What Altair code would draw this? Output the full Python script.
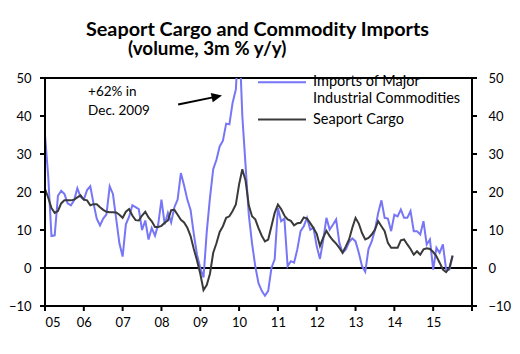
import altair as alt
import pandas as pd

# monthly, Jan 2005 .. Jul 2015 (3m % y/y)
imports = [
    35, 24, 8.4, 8.6, 19, 20.3, 19.5, 17, 16.5, 17.8, 21, 18.7,          # 2005
    18, 20.5, 21.5, 17, 13, 11.2, 13, 14.1, 21.5, 19.5, 13, 6.5,         # 2006
    3, 11.5, 13.5, 16.5, 16, 15.5, 10, 12.5, 7.5, 10.5, 8.5, 11.5,       # 2007
    18, 11.5, 14.5, 12, 16, 18, 25, 21.7, 18, 15.3, 9, 3.5,              # 2008
    0, -2.5, 9.5, 18.5, 26, 28.5, 32, 33.5, 38, 37.8, 43.5, 47,          # 2009
    62, 40, 27, 14, 6.5, 0.5, -4, -6, -7.3, -6, 0, 2.3,                  # 2010
    15.8, 12.3, 13, 0.5, 1.8, 1.4, 4.9, 9.7, 11, 13.2, 10.1, 10.6,       # 2011
    5.7, 2.4, 7.3, 13.2, 10.1, 11.4, 12.8, 6.6, 4, 4.9, 6.8, 7.8,        # 2012
    7, 4, 0.5, -1, 5, 7, 10, 14.5, 17.8, 13.2, 13, 9.7,                  # 2013
    14, 13.6, 15.4, 13.2, 13.2, 15, 9.7, 9.7, 8.8, 12.3, 6.2, 7.5,       # 2014
    -0.4, 5.3, 4, 6.2, -0.4, -0.4, 3.1,                                  # 2015
]
seaport = [
    20.8, 18.5, 15.8, 14.5, 15, 17, 17.8, 17.8, 17.8, 18, 18.6, 19.1,    # 2005
    18, 17.8, 16.5, 16.8, 16.8, 16, 15.3, 14.8, 14.7, 14.7, 14.6, 14,    # 2006
    13.2, 14.8, 15.5, 13.8, 12.6, 12.5, 13.8, 14.8, 13.3, 12.3, 10.8, 10.8,  # 2007
    11.1, 11.9, 12.5, 15.2, 15.3, 14, 12.7, 12, 10.6, 8.4, 5, 2,         # 2008
    -1.5, -5.8, -4.5, -1.5, 4, 6.5, 9.5, 11, 13.2, 13.6, 15, 16.7,       # 2009
    22, 26, 23, 16.5, 13.6, 12.8, 10.5, 8.5, 7, 7.5, 11, 14.5,           # 2010
    16.7, 15.5, 13.8, 12.8, 12.4, 11.2, 11.8, 11.9, 13.3, 13, 11.8, 10.5,  # 2011
    9, 5.8, 8, 9.8, 8.4, 7.3, 6.4, 5.3, 4, 5.7, 7.5, 10.6,               # 2012
    13.2, 11.7, 9.2, 7.5, 7.9, 8.8, 10.1, 12.3, 11, 9.7, 6.6, 5.3,       # 2013
    5.3, 5.3, 7.3, 7.5, 6.2, 5, 3.5, 4.4, 3.5, 4.9, 5.2, 5,              # 2014
    4.2, 3.1, 1.4, -0.4, -1.1, 0, 3.3,                                   # 2015
]
series_names = ["Imports of Major Industrial Commodities", "Seaport Cargo"]
series_colors = ["#7676f7", "#3a3a3a"]
year_ticks = list(range(2005, 2017))
y_ticks = [-10, 0, 10, 20, 30, 40, 50]

title_line1 = "Seaport Cargo and Commodity Imports"
title_line2 = "(volume, 3m % y/y)"
note_lines = ["+62% in", "Dec. 2009"]

FONT = "Lato"
W, H = 427, 228

rows = []
for i, v in enumerate(imports):
    rows.append({"t": 2005 + i / 12, "value": v, "series": series_names[0]})
for i, v in enumerate(seaport):
    rows.append({"t": 2005 + i / 12, "value": v, "series": series_names[1]})
df = pd.DataFrame(rows)

xscale = alt.Scale(domain=[year_ticks[0], year_ticks[-1]], nice=False, zero=False)
yscale = alt.Scale(domain=[y_ticks[0], y_ticks[-1]], nice=False, zero=False)

axis_common = dict(
    grid=False, title=None, domain=False, ticks=False, labelOverlap=False,
    labelFont=FONT, labelFontSize=13, labelColor="black",
)

x_axis = alt.Axis(
    orient="bottom", values=year_ticks, labelPadding=10,
    labelExpr="datum.value >= 2016 ? '' : substring(toString(datum.value), 2, 4)",
    **axis_common,
)

X = lambda f: alt.X(f, scale=xscale, axis=x_axis)
Y = lambda f: alt.Y(f, scale=yscale, axis=None)

# axis lines and tick marks drawn as marks (black, 2px), not clipped to the plot
rule_style = dict(color="black", strokeWidth=2, clip=False)
frame = alt.Chart(pd.DataFrame({
    "t": [year_ticks[0], year_ticks[0], year_ticks[-1], year_ticks[-1]],
    "v": [y_ticks[-1], y_ticks[0], y_ticks[0], y_ticks[-1]],
    "k": [0, 1, 2, 3]})).mark_line(**rule_style).encode(
    x=X("t:Q"), y=Y("v:Q"), order="k:Q")
yt = pd.DataFrame({"v": y_ticks})
ticks_left = alt.Chart(yt).mark_rule(**rule_style).encode(
    x=alt.value(-5), x2=alt.value(0), y=Y("v:Q"))
ticks_right = alt.Chart(yt).mark_rule(**rule_style).encode(
    x=alt.value(W), x2=alt.value(W + 5), y=Y("v:Q"))
ticks_bottom = alt.Chart(pd.DataFrame({"t": year_ticks})).mark_rule(**rule_style).encode(
    x=X("t:Q"), y=alt.value(H), y2=alt.value(H + 5))

lines = alt.Chart(df).mark_line(strokeWidth=2, clip=True).encode(
    x=X("t:Q"),
    y=alt.Y("value:Q", scale=yscale,
            axis=alt.Axis(orient="left", values=y_ticks, labelPadding=14, **axis_common)),
    color=alt.Color("series:N", scale=alt.Scale(domain=series_names, range=series_colors),
                    legend=None),
    order=alt.Order("t:Q"),
)

right_axis = alt.Chart(pd.DataFrame({"v": [y_ticks[0], y_ticks[-1]],
                                     "t": [year_ticks[0], year_ticks[-1]]})).mark_point(
    opacity=0).encode(
    x=X("t:Q"),
    y=alt.Y("v:Q", scale=yscale,
            axis=alt.Axis(orient="right", values=y_ticks, labelPadding=16, **axis_common)),
)

zero = alt.Chart(pd.DataFrame({"z": [0]})).mark_rule(**rule_style).encode(y=Y("z:Q"))

# annotation
note = alt.Chart(pd.DataFrame({"t": [2006.11, 2006.11], "value": [46.2, 41.2],
                               "label": note_lines})).mark_text(
    align="left", baseline="middle", font=FONT, fontSize=13.5, color="black"
).encode(x=X("t:Q"), y=Y("value:Q"), text="label:N")

arrow_line = alt.Chart(pd.DataFrame({"t": [2008.43], "t2": [2009.42],
                                     "value": [43.0], "value2": [45.1]})).mark_rule(
    color="black", strokeWidth=2
).encode(x=X("t:Q"), x2="t2:Q", y=Y("value:Q"), y2="value2:Q")

arrow_head = alt.Chart(pd.DataFrame({"t": [2009.56], "value": [45.4]})).mark_point(
    shape="M0,0L-1,-0.45L-1,0.45Z", filled=True, color="black", opacity=1,
    size=440, angle=348,
).encode(x=X("t:Q"), y=Y("value:Q"))

# legend (drawn as marks)
leg_rules = alt.Chart(pd.DataFrame({"series": series_names, "yy": [4.2, 41.5]})).mark_rule(
    strokeWidth=2
).encode(
    x=alt.value(213), x2=alt.value(261), y=alt.Y("yy:Q", scale=None, axis=None),
    color=alt.Color("series:N", scale=alt.Scale(domain=series_names, range=series_colors),
                    legend=None),
)
leg_text = alt.Chart(pd.DataFrame({
    "label": ["Imports of Major", "Industrial Commodities", "Seaport Cargo"],
    "yy": [3.5, 21, 42.2]})).mark_text(
    align="left", baseline="middle", font=FONT, fontSize=14.5, color="black"
).encode(x=alt.value(268), y=alt.Y("yy:Q", scale=None, axis=None), text="label:N")

title1 = alt.Chart(pd.DataFrame({"label": [title_line1]})).mark_text(
    align="center", baseline="alphabetic", font=FONT, fontSize=19.8, fontWeight="bold",
    color="black").encode(x=alt.value(212.5), y=alt.value(-42.5), text="label:N")
title2 = alt.Chart(pd.DataFrame({"label": [title_line2]})).mark_text(
    align="left", baseline="alphabetic", font=FONT, fontSize=18.8, fontWeight="bold",
    color="black").encode(x=alt.value(83), y=alt.value(-23), text="label:N")

chart = alt.layer(
    zero, lines, right_axis, frame, ticks_left, ticks_right, ticks_bottom,
    note, arrow_line, arrow_head, leg_rules, leg_text, title1, title2
).resolve_axis(y="independent").properties(
    width=W, height=H,
    autosize=alt.AutoSizeParams(type="none"),
    padding={"left": 45, "top": 78, "right": 48, "bottom": 48},
    background="white",
).configure_view(stroke="black", strokeWidth=2)

chart.save("out.html", embed_options={"renderer": "svg", "actions": False})
